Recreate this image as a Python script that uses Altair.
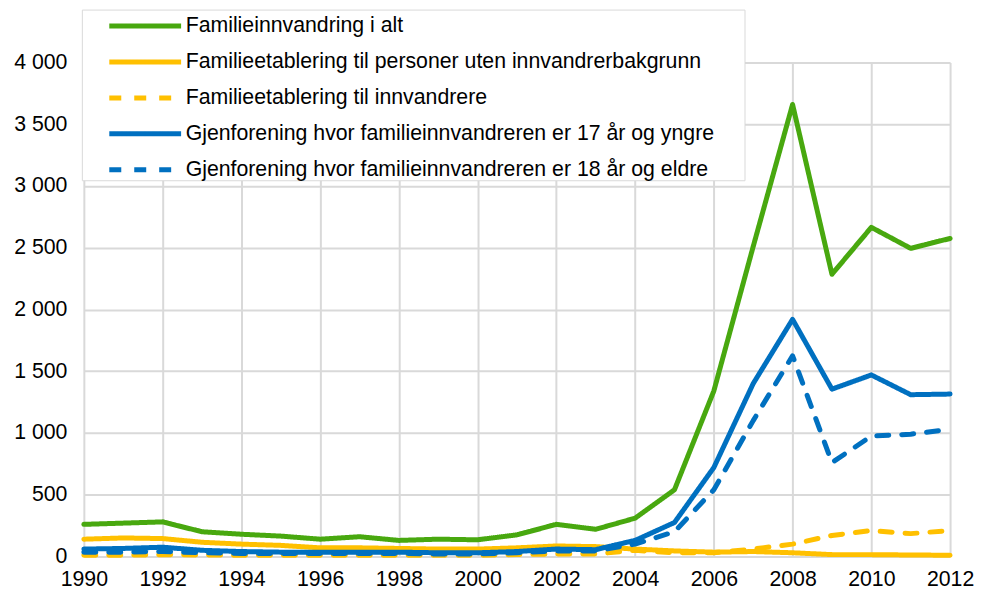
import altair as alt
import pandas as pd

years = list(range(1990, 2013))
series_names = [
    "Familieinnvandring i alt",
    "Familieetablering til personer uten innvandrerbakgrunn",
    "Familieetablering til innvandrere",
    "Gjenforening hvor familieinnvandreren er 17 år og yngre",
    "Gjenforening hvor familieinnvandreren er 18 år og eldre",
]
total = [260, 270, 280, 200, 180, 165, 140, 160, 130, 140, 135, 175, 260, 220, 310, 540, 1340, 2510, 3660, 2285, 2665, 2495, 2575]
uten = [140, 150, 145, 115, 100, 90, 70, 70, 65, 60, 60, 70, 85, 80, 60, 45, 35, 40, 30, 15, 15, 12, 10]
innv = [10, 10, 15, 12, 10, 10, 10, 10, 10, 10, 10, 15, 20, 20, 50, 30, 30, 60, 100, 170, 210, 185, 210]
under17 = [60, 65, 75, 50, 40, 35, 35, 35, 35, 30, 30, 40, 60, 55, 130, 275, 720, 1400, 1920, 1355, 1470, 1310, 1315]
over18 = [35, 35, 40, 30, 25, 25, 25, 25, 25, 20, 20, 30, 45, 45, 100, 200, 540, 1100, 1625, 760, 975, 990, 1030]

colors = ["#48A80F", "#FFC000", "#FFC000", "#0070C0", "#0070C0"]
dashes = [[1, 0], [1, 0], [12, 13], [1, 0], [12, 13]]

rows = []
for name, vals in zip(series_names, [total, uten, innv, under17, over18]):
    for y, v in zip(years, vals):
        rows.append({"year": y, "value": v, "serie": name})
df = pd.DataFrame(rows)

FONT = "Liberation Sans"
FS = 21.33
BLANK = "\u2800"

chart = alt.Chart(df).mark_line(strokeWidth=5, strokeCap="round", strokeJoin="round").encode(
    x=alt.X("year:Q", title=None,
            scale=alt.Scale(domain=[1990, 2012], nice=False, zero=False),
            axis=alt.Axis(values=list(range(1990, 2013, 2)), format="d", labelFontSize=FS,
                          labelFont=FONT, labelColor="#000000", ticks=False, domain=False,
                          gridColor="#d9d9d9", gridWidth=2, labelPadding=12, labelFlush=False)),
    y=alt.Y("value:Q", title=None,
            scale=alt.Scale(domain=[0, 4000], nice=False),
            axis=alt.Axis(values=list(range(0, 4001, 500)), labelFontSize=FS, labelFont=FONT,
                          labelColor="#000000", ticks=False, domain=False,
                          gridColor="#d9d9d9", gridWidth=2, labelPadding=17,
                          labelExpr="replace(format(datum.value, ','), ',', ' ')")),
    color=alt.Color("serie:N", title=None, sort=series_names,
                    scale=alt.Scale(domain=series_names, range=colors),
                    legend=alt.Legend(orient="none", legendX=-2, legendY=-53,
                                      fillColor="white", strokeColor="#d9d9d9",
                                      padding=0, symbolType="M-1,0H4.14", symbolSize=784,
                                      symbolStrokeWidth=5, rowPadding=9, symbolOffset=25,
                                      labelFontSize=FS, labelFont=FONT, labelColor="#000000",
                                      labelLimit=1000, labelOffset=46,
                                      labelExpr="datum.label + '" + BLANK * 2 + "'")),
    strokeDash=alt.StrokeDash("serie:N", title=None, sort=series_names,
                              scale=alt.Scale(domain=series_names, range=dashes)),
).properties(width=868, height=495, padding={"left": 5, "top": 0, "right": 12, "bottom": 0}
).configure_view(stroke=None)

chart.save("out.html", embed_options={"renderer": "svg", "actions": False})
